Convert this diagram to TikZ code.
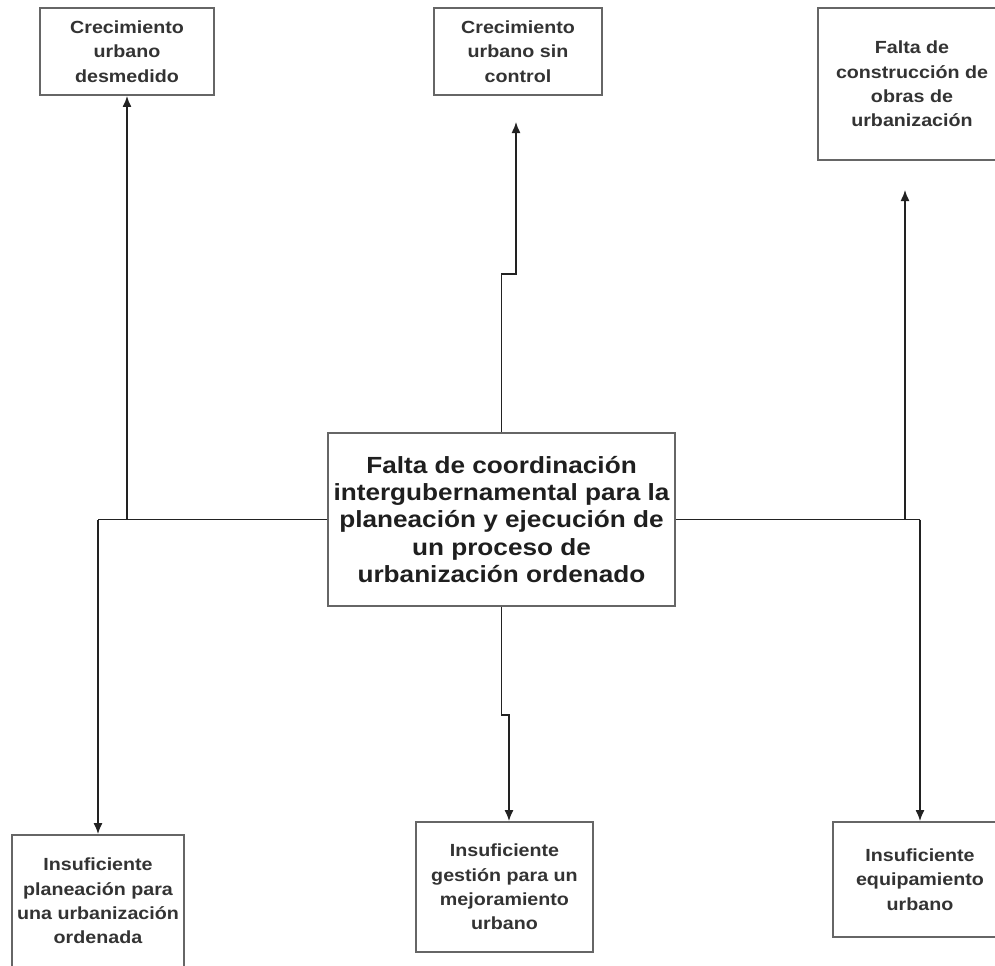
\documentclass[tikz,border=0pt]{standalone}
\usepackage{fontspec}
\newfontfamily\cajafont[FakeStretch=1.12]{Liberation Sans}
\usetikzlibrary{arrows.meta}
\definecolor{borde}{HTML}{666666}
\definecolor{texto}{HTML}{333333}
\definecolor{linea}{HTML}{222222}
\tikzset{
  caja/.style={draw=borde, line width=1.1pt, fill=white, align=center, text=texto,
    inner sep=2pt, font=\cajafont\bfseries\fontsize{10}{13.8}\selectfont},
  problema/.style={caja, text=black!88, font=\cajafont\bfseries\fontsize{13.3}{15.4}\selectfont},
  conector/.style={draw=linea, line width=0.8pt}
}
\begin{document}
\begin{tikzpicture}[x=0.02cm, y=-0.02cm, >={Latex[length=2.2mm,width=1.8mm]}]
    \useasboundingbox (0,0) rectangle (995,965);
    \clip (0,0) rectangle (995,965);
    \fill[white] (0,0) rectangle (995,965);

    % problema central
    \node[problema, minimum width=6.94cm, minimum height=3.46cm] (prob) at (501.5,519.5)
        {Falta de coordinación\\intergubernamental para la\\planeación y ejecución de\\un proceso de\\urbanización ordenado};

    % efectos
    \node[caja, minimum width=3.48cm, minimum height=1.74cm] (efA) at (127,51.5) {Crecimiento\\urbano\\desmedido};
    \node[caja, minimum width=3.36cm, minimum height=1.74cm] (efB) at (518,51.5) {Crecimiento\\urbano sin\\control};
    \node[caja, minimum width=3.76cm, minimum height=3.04cm] (efC) at (912,84) {Falta de\\construcción de\\obras de\\urbanización};

    % causas
    \node[caja, minimum width=3.44cm, minimum height=2.64cm] (cauD) at (98,901) {Insuficiente\\planeación para\\una urbanización\\ordenada};
    \node[caja, minimum width=3.54cm, minimum height=2.6cm] (cauE) at (504.5,887) {Insuficiente\\gestión para un\\mejoramiento\\urbano};
    \node[caja, minimum width=3.48cm, minimum height=2.3cm] (cauF) at (920,879.5) {Insuficiente\\equipamiento\\urbano};

    \coordinate (escB) at (516,274);
    \coordinate (pB) at (516,122);
    \coordinate (pC) at (905,190);
    \coordinate (escE) at (509,715);

    % lado izquierdo
    \draw[conector] (prob.west) -- (prob.west -| cauD.north);
    \draw[conector, ->] (prob.west -| efA.south) -- (efA.south);
    \draw[conector, ->] (prob.west -| cauD.north) -- (cauD.north);

    % lado derecho
    \draw[conector] (prob.east) -- (prob.east -| cauF.north);
    \draw[conector, ->] (prob.east -| pC) -- (pC);
    \draw[conector, ->] (prob.east -| cauF.north) -- (cauF.north);

    % centro
    \draw[conector, ->] (prob.north) |- (escB) -- (pB);
    \draw[conector, ->] (prob.south) |- (escE) -- (escE |- cauE.north);
\end{tikzpicture}
\end{document}
